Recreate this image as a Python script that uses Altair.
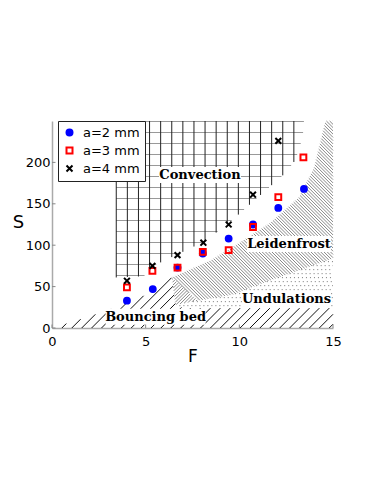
import altair as alt
import numpy as np
import pandas as pd

# ---------------- data ----------------
series_names = ["a=2 mm", "a=3 mm", "a=4 mm"]
F_a2 = [4.0, 5.38, 6.7, 8.05, 9.43, 10.73, 12.08, 13.45]
S_a2 = [33, 47, 73, 90, 108, 125, 145, 168]
F_a3 = [4.0, 5.36, 6.7, 8.05, 9.43, 10.73, 12.08, 13.42]
S_a3 = [49, 69, 73, 92, 94, 122, 158, 206]
F_a4 = [4.0, 5.36, 6.7, 8.08, 9.43, 10.73, 12.08]
S_a4 = [57, 75, 88, 103, 125, 161, 226]

x_ticks = [0, 5, 10, 15]
y_ticks = [0, 50, 100, 150, 200]

# region outlines (F, S)
conv_F = [3.42, 3.42, 13.45, 13.4, 13.2, 12.9, 12.4, 11.6, 10.6, 9.4, 8.1, 6.8, 5.5, 4.9]
conv_S = [61, 250, 250, 235, 215, 200, 186, 170, 150, 126, 104, 90, 76, 62.5]
bounce_F = [0, 1, 2, 3, 4, 5.4, 6.4, 6.6, 7.0, 15, 15]
bounce_S = [0, 7, 14, 22, 30, 44, 61, 28, 24, 24, 0]
chevron_F = [6.4, 7.8, 6.6]
chevron_S = [61, 33, 28]
leid_F = [6.4, 8.5, 9.6, 11.6, 13.2, 14.0, 14.6, 15, 15, 13.5, 11.7, 9.6, 7.8]
leid_S = [61, 82, 97, 126, 158, 194, 250, 250, 84, 72, 58, 40, 33]
und_F = [6.6, 7.8, 9.6, 11.7, 13.5, 15, 15, 7.0]
und_S = [28, 33, 40, 58, 72, 84, 26, 26]

label_text = ["Convection", "Leidenfrost", "Undulations", "Bouncing bed"]
label_F = [7.90, 12.65, 12.52, 5.53]
label_S = [184.7, 101.6, 35.3, 13.6]
label_w_px = [82, 84, 88, 100]

# ---------------- geometry helpers ----------------
W, H = 281, 207
XMAX, YMAX = 15, 250
KX, KY = W / XMAX, H / YMAX


def clip_lines(pf, ps, angle_deg, spacing, through):
    P = np.column_stack([np.array(pf) * KX, np.array(ps) * KY])
    th = np.radians(angle_deg)
    d = np.array([np.cos(th), np.sin(th)])
    n = np.array([-np.sin(th), np.cos(th)])
    pn, pd_ = P @ n, P @ d
    c0 = np.array([through[0] * KX, through[1] * KY]) @ n
    kmin = int(np.floor((pn.min() - c0) / spacing)) - 1
    kmax = int(np.ceil((pn.max() - c0) / spacing)) + 1
    segs = []
    N = len(P)
    for k in range(kmin, kmax + 1):
        c = c0 + k * spacing
        ts = []
        for i in range(N):
            a, b = pn[i], pn[(i + 1) % N]
            if (a <= c < b) or (b <= c < a):
                t = (c - a) / (b - a)
                ts.append(pd_[i] + t * (pd_[(i + 1) % N] - pd_[i]))
        ts.sort()
        for j in range(0, len(ts) - 1, 2):
            p1 = c * n + ts[j] * d
            p2 = c * n + ts[j + 1] * d
            segs.append({"F": p1[0] / KX, "S": p1[1] / KY,
                         "F2": p2[0] / KX, "S2": p2[1] / KY})
    return pd.DataFrame(segs)


xs = alt.Scale(domain=[0, XMAX], nice=False, zero=False)
ys = alt.Scale(domain=[0, YMAX], nice=False, zero=False)

AX = alt.Axis(values=x_ticks, grid=False, ticks=False, tickSize=0,
              domainColor="#aaaaaa", domainWidth=1.5,
              labelFont="DejaVu Sans", labelFontSize=13, labelColor="black",
              labelBaseline="middle", labelPadding=13.5, labelFlush=False,
              titleFont="DejaVu Sans", titleFontSize=17, titleFontWeight="normal",
              titleColor="black", titleX=140.5, titleY=28.5, titleBaseline="middle",
              titleAlign="center")
AY = alt.Axis(values=y_ticks, grid=False, ticks=False, tickSize=0,
              domainColor="#aaaaaa", domainWidth=1.5,
              labelFont="DejaVu Sans", labelFontSize=13, labelColor="black",
              labelBaseline="middle", labelPadding=2, labelFlush=False,
              titleFont="DejaVu Sans", titleFontSize=18, titleFontWeight="normal",
              titleColor="black", titleAngle=0, titleX=-34, titleY=101.5,
              titleBaseline="middle", titleAlign="center")


def X(field):
    return alt.X(field, scale=xs, axis=AX, title="F")


def Y(field):
    return alt.Y(field, scale=ys, axis=AY, title="S")


def rules(df, **mark):
    return alt.Chart(df).mark_rule(**mark).encode(
        x=X("F:Q"), y=Y("S:Q"), x2="F2:Q", y2="S2:Q")


bounce_df = clip_lines(bounce_F, bounce_S, 45, 7.0, (0, 0))
chev_df = clip_lines(chevron_F, chevron_S, 45, 2.3, (0, 0))
leid_df = clip_lines(leid_F, leid_S, -45, 2.3, (0, 0))
und_df = clip_lines(und_F, und_S, 0, 4.0, (0, 27))
conv_v = clip_lines(conv_F, conv_S, 90, 11.1, (3.43, 100))
conv_h = clip_lines(conv_F, conv_S, 0, 11.0, (5, 63.4))

xt = alt.Chart(pd.DataFrame({"t": x_ticks})).mark_rule(color="#888888", strokeWidth=1).encode(
    x=X("t:Q"), y=alt.value(H), y2=alt.value(H - 3.5))
yt = alt.Chart(pd.DataFrame({"t": y_ticks})).mark_rule(color="#888888", strokeWidth=1).encode(
    y=Y("t:Q"), x=alt.value(0), x2=alt.value(3.5))

# label boxes and texts
lab = pd.DataFrame({"text": label_text, "F": label_F, "S": label_S, "w": label_w_px})
lab["F1"] = lab["F"] - lab["w"] / 2 / KX
lab["F2"] = lab["F"] + lab["w"] / 2 / KX
lab["S1"] = lab["S"] - 8 / KY
lab["S2"] = lab["S"] + 8 / KY
boxes = alt.Chart(lab).mark_rect(color="white").encode(
    x=X("F1:Q"), x2="F2:Q", y=Y("S1:Q"), y2="S2:Q")
texts = alt.Chart(lab).mark_text(font="DejaVu Serif", fontWeight="bold", fontSize=13,
                                 color="black", baseline="middle", align="center").encode(
    x=X("F:Q"), y=Y("S:Q"), text="text:N")

# data points
rows = []
for name, fs, ss in zip(series_names, [F_a2, F_a3, F_a4], [S_a2, S_a3, S_a4]):
    for f, s in zip(fs, ss):
        rows.append({"F": f, "S": s, "series": name})
pts_df = pd.DataFrame(rows)

leg = alt.Legend(title=None, orient="none", legendX=6, legendY=0, fillColor="white",
                 strokeColor="#222222", padding=5, labelFont="DejaVu Sans", labelFontSize=13,
                 labelColor="black", labelOffset=7, rowPadding=3, symbolSize=36,
                 symbolStrokeWidth=2)
xshape = "M-1,-1L1,1M-1,1L1,-1"
points = alt.Chart(pts_df).mark_point(strokeWidth=2, opacity=1, fillOpacity=1, size=34).encode(
    x=X("F:Q"),
    y=Y("S:Q"),
    shape=alt.Shape("series:N", scale=alt.Scale(domain=series_names, range=["circle", "square", xshape]), legend=leg),
    stroke=alt.Stroke("series:N", scale=alt.Scale(domain=series_names, range=["#0000ff", "#ff0000", "#000000"]), legend=leg),
    fill=alt.Fill("series:N", scale=alt.Scale(domain=series_names, range=["#0000ff", "#ffffff00", "#ffffff00"]), legend=leg),
)

chart = alt.layer(
    rules(bounce_df, color="#111111", strokeWidth=1),
    rules(chev_df, color="#555555", strokeWidth=0.7),
    rules(leid_df, color="#555555", strokeWidth=0.7),
    rules(und_df, color="#777777", strokeWidth=1, strokeDash=[1, 3]),
    rules(conv_h, color="#999999", strokeWidth=1),
    rules(conv_v, color="#222222", strokeWidth=1),
    boxes, texts, xt, yt, points,
).properties(
    width=W, height=H,
    autosize=alt.AutoSizeParams(type="none"),
    padding={"left": 44, "top": 113, "right": 30, "bottom": 60},
    background="white",
).configure_view(strokeWidth=0)

chart.save("out.html", embed_options={"renderer": "svg", "actions": False})
